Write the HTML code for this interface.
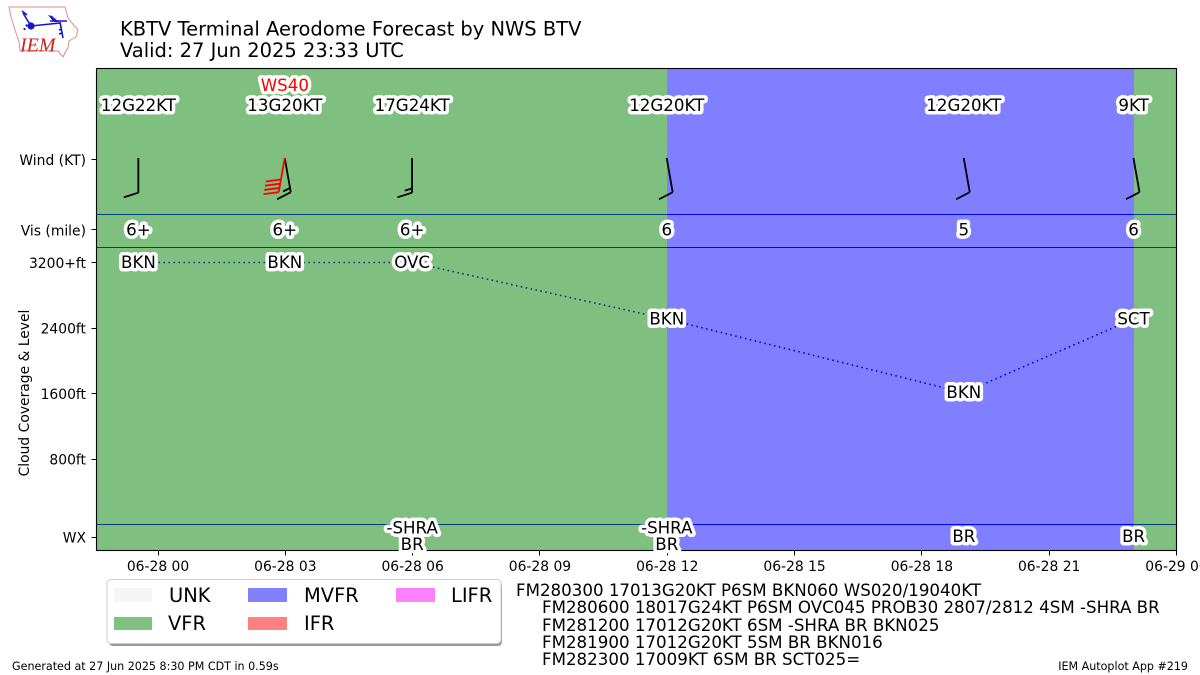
<!DOCTYPE html>
<html lang="en">
<head>
<meta charset="utf-8">
<title>KBTV Terminal Aerodome Forecast</title>
<style>
html,body{margin:0;padding:0;background:#fff;width:1200px;height:675px;overflow:hidden}
svg{display:block;font-family:"DejaVu Sans","Liberation Sans",sans-serif}
.halo{paint-order:stroke;stroke:#fff;stroke-width:7px;stroke-linejoin:round;stroke-linecap:round}
</style>
</head>
<body>
<svg id="chart" xmlns="http://www.w3.org/2000/svg" width="1200" height="675" viewBox="0 0 1200 675">
  <g>
    <polygon points="9,7 65,7 68,18 72,23 78,30 76,37 69,41 68,48 65,53 63,57 58,51 20,50 19,42 15,30 11,17" fill="#fff" stroke="#e88a8a" stroke-width="1"/>
    <g stroke="#1515cc" fill="none" stroke-width="1.6">
      <path d="M31,26 L60,23 M50,21 L67,21 M60,22 L63,38 M59,30 L62,29 M59,34 L62,33 M31,26 L23,13 M22,11 L27,15"/>
    </g>
    <circle cx="31" cy="26" r="3.600" fill="#1515cc"/>
    <polygon points="48,15 52,16 59,22 54,22" fill="#1515cc"/>
    <circle cx="24.500" cy="29" r="1.100" fill="#1515cc"/>
    <circle cx="26.500" cy="25.500" r="1.100" fill="#1515cc"/>
    <text x="20" y="51.500" font-family="'Liberation Serif',serif" font-style="italic" font-size="20" fill="#cc2222">IEM</text>
  </g>

  <text x="120" y="35.500" font-size="19.48">KBTV Terminal Aerodome Forecast by NWS BTV</text>
  <text x="120" y="57" font-size="19.48">Valid: 27 Jun 2025 23:33 UTC</text>

  <g id="lines-layer"></g>
  <g id="spans-layer"></g>
  <g id="barbs-layer"></g>
  <rect x="96.500" y="68.500" width="1080" height="482" fill="none" stroke="#000" stroke-width="1.100"/>
  <g id="axis-layer"></g>
  <text transform="translate(29,393) rotate(-90)" text-anchor="middle" font-size="13.89">Cloud Coverage &amp; Level</text>
  <g id="labels-layer"></g>

  <g>
    <rect x="109" y="582" width="393" height="64" rx="4" fill="#999"/>
    <rect x="107" y="579.500" width="394" height="64" rx="4" fill="#fff" stroke="#ccc" stroke-width="1"/>
    <rect x="114" y="588" width="38" height="14" fill="#f5f5f5"/>
    <text x="169" y="602" font-size="19.44">UNK</text>
    <rect x="114" y="617" width="38" height="13" fill="#80c080"/>
    <text x="168" y="630" font-size="19.44">VFR</text>
    <rect x="248" y="588" width="39" height="14" fill="#8080ff"/>
    <text x="304" y="602" font-size="19.44">MVFR</text>
    <rect x="248" y="617" width="39" height="13" fill="#ff8080"/>
    <text x="304" y="630" font-size="19.44">IFR</text>
    <rect x="396" y="588" width="39" height="14" fill="#ff80ff"/>
    <text x="451" y="602" font-size="19.44">LIFR</text>
  </g>

  <g font-size="16.67">
    <text x="516" y="596">FM280300 17013G20KT P6SM BKN060 WS020/19040KT</text>
    <text x="542" y="613">FM280600 18017G24KT P6SM OVC045 PROB30 2807/2812 4SM -SHRA BR</text>
    <text x="542" y="631">FM281200 17012G20KT 6SM -SHRA BR BKN025</text>
    <text x="542" y="648">FM281900 17012G20KT 5SM BR BKN016</text>
    <text x="542" y="665">FM282300 17009KT 6SM BR SCT025=</text>
  </g>

  <text x="12" y="670" font-size="11.11">Generated at 27 Jun 2025 8:30 PM CDT in 0.59s</text>
  <text x="1188" y="670" text-anchor="end" font-size="11.11">IEM Autoplot App #219</text>
</svg>
<script>
var forecastHours = [-0.45, 3, 6, 12, 19, 23];
var windDirections = [180, 170, 180, 170, 170, 170];
var windSpeeds = [12, 13, 17, 12, 12, 9];
var windLabels = ['12G22KT', '13G20KT', '17G24KT', '12G20KT', '12G20KT', '9KT'];
var visLabels = ['6+', '6+', '6+', '6', '5', '6'];
var cloudLevels = [3200, 3200, 3200, 2510, 1610, 2510];
var cloudLabels = ['BKN', 'BKN', 'OVC', 'BKN', 'BKN', 'SCT'];
var wxLabels = ['', '', '-SHRA|BR', '-SHRA|BR', 'BR', 'BR'];
var flightCategories = ['VFR', 'VFR', 'VFR', 'MVFR', 'MVFR', 'VFR'];
var shearHours = [3];
var shearDirections = [190];
var shearSpeeds = [40];
var shearLabels = ['WS40'];
var xTickHours = [0, 3, 6, 9, 12, 15, 18, 21, 24];
var xTickLabels = ['06-28 00', '06-28 03', '06-28 06', '06-28 09', '06-28 12', '06-28 15', '06-28 18', '06-28 21', '06-29 00'];
var yTickLevels = [4460, 3600, 3200, 2400, 1600, 800, -155];
var yTickLabels = ['Wind (KT)', 'Vis (mile)', '3200+ft', '2400ft', '1600ft', '800ft', 'WX'];
var rowBoundaryLevels = [3785, 3380, 0];
var categoryColors = { VFR: '#008000', MVFR: '#0000ff', IFR: '#ff0000', LIFR: '#ff00ff', UNK: '#eeeeee' };

var SVG_NS = 'http://www.w3.org/2000/svg';
var X_MIN = -1.45, X_MAX = 24, PLOT_L = 96.5, PLOT_R = 1176.5, PLOT_T = 68.5, PLOT_B = 550.5;
function xScale(h) { return PLOT_L + (h - X_MIN) * (PLOT_R - PLOT_L) / (X_MAX - X_MIN); }
function yScale(v) { return 524.5 - v * 65.5 / 800; }
function make(tag, attrs, parent) {
  var el = document.createElementNS(SVG_NS, tag);
  for (var k in attrs) { el.setAttribute(k, attrs[k]); }
  parent.appendChild(el);
  return el;
}
function slug(s) { return s.toLowerCase().replace(/[^a-z0-9]+/g, '-').replace(/^-|-$/g, ''); }

var linesLayer = document.getElementById('lines-layer');
var spansLayer = document.getElementById('spans-layer');
var barbsLayer = document.getElementById('barbs-layer');
var axisLayer = document.getElementById('axis-layer');
var labelsLayer = document.getElementById('labels-layer');

rowBoundaryLevels.forEach(function (lvl, i) {
  var y = Math.floor(yScale(lvl)) + 0.5;
  var el = make('line', { x1: PLOT_L, x2: PLOT_R, y1: y, y2: y, stroke: '#0000ff', 'stroke-width': 1 }, linesLayer);
  
  
});

var cloudPoints = forecastHours.map(function (h, i) { return (xScale(h) - 0.5) + ',' + yScale(cloudLevels[i]); }).join(' ');
var cloudLine = make('polyline', { points: cloudPoints, fill: 'none', stroke: '#0000ff', 'stroke-width': 1.6, 'stroke-dasharray': '1.6 3.4' }, linesLayer);



forecastHours.forEach(function (h, i) {
  var start = i === 0 ? X_MIN : h;
  var end = i === forecastHours.length - 1 ? X_MAX : forecastHours[i + 1];
  var el = make('rect', { x: Math.round(xScale(start)), y: PLOT_T, width: Math.round(xScale(end)) - Math.round(xScale(start)), height: PLOT_B - PLOT_T, fill: categoryColors[flightCategories[i]], 'fill-opacity': 0.5, 'shape-rendering': 'crispEdges' }, spansLayer);
  
  
});

function drawBarb(hour, direction, speed, color, name) {
  var LEN = 34.7, STEP = 4.3, BARB = 14.6, TILT = 4.6, TOP = 158;
  var rad = direction * Math.PI / 180;
  var ux = Math.sin(rad), uy = -Math.cos(rad);
  var px = -uy, py = ux;
  var x0 = xScale(hour) - 0.6, xe = x0 + ux * LEN, ye = TOP + uy * LEN;
  var d = 'M' + x0 + ',' + TOP + 'L' + xe + ',' + ye;
  var rounded = Math.round(speed / 5) * 5;
  var full = Math.floor(rounded / 10), half = rounded % 10 >= 5 ? 1 : 0;
  var pos = 0;
  for (var i = 0; i < full + half; i++) {
    var scale = i < full ? 1 : 0.5;
    var rx = xe - ux * pos, ry = ye - uy * pos;
    d += 'M' + rx + ',' + ry + 'L' + (rx + scale * (BARB * px + TILT * ux)) + ',' + (ry + scale * (BARB * py + TILT * uy));
    pos += STEP;
  }
  var el = make('path', { d: d, fill: 'none', stroke: color, 'stroke-width': 1.8 }, barbsLayer);
  
  
}
forecastHours.forEach(function (h, i) {
  drawBarb(h, windDirections[i], windSpeeds[i], '#000', 'wind-barb-' + i);
});
shearHours.forEach(function (h, i) {
  drawBarb(h, shearDirections[i], shearSpeeds[i], '#ff0000', 'wind-shear-barb-' + i);
});

xTickHours.forEach(function (h, i) {
  var x = Math.round(xScale(h) - 0.5) + 0.5;
  var tick = make('line', { x1: x, x2: x, y1: PLOT_B, y2: PLOT_B + 5, stroke: '#000', 'stroke-width': 1 }, axisLayer);
  
  
  var label = make('text', { x: xScale(h), y: 571, 'text-anchor': 'middle', 'font-size': 13.89 }, axisLayer);
  label.textContent = xTickLabels[i];
  
  
});
yTickLevels.forEach(function (lvl, i) {
  var y = Math.round(yScale(lvl) - 0.5) + 0.5;
  var tick = make('line', { x1: PLOT_L - 5, x2: PLOT_L, y1: y, y2: y, stroke: '#000', 'stroke-width': 1 }, axisLayer);
  
  
  var label = make('text', { x: 86, y: yScale(lvl) + 5.5, 'text-anchor': 'end', 'font-size': 13.89 }, axisLayer);
  label.textContent = yTickLabels[i];
  
  
});

function drawLabel(x, y, text, name, color) {
  var el = make('text', { x: x, y: y, 'text-anchor': 'middle', 'font-size': 16.67, fill: color || '#000', 'class': 'halo' }, labelsLayer);
  el.textContent = text;
  
  
}
forecastHours.forEach(function (h, i) {
  var x = xScale(h) - 0.5;
  drawLabel(x, 111, windLabels[i], 'wind-label-' + i);
  drawLabel(x, 235.5, visLabels[i], 'visibility-label-' + i);
  drawLabel(x, yScale(cloudLevels[i]) + 5.5, cloudLabels[i], 'cloud-label-' + i);
  if (wxLabels[i]) {
    var parts = wxLabels[i].split('|');
    if (parts.length === 2) {
      drawLabel(x, 533.5, parts[0], 'weather-label-' + i + '-a');
      drawLabel(x, 550, parts[1], 'weather-label-' + i + '-b');
    } else {
      drawLabel(x, 542, parts[0], 'weather-label-' + i);
    }
  }
});
shearHours.forEach(function (h, i) {
  drawLabel(xScale(h) - 0.5, 91, shearLabels[i], 'wind-shear-label-' + i, '#ff0000');
});
</script>
</body>
</html>
